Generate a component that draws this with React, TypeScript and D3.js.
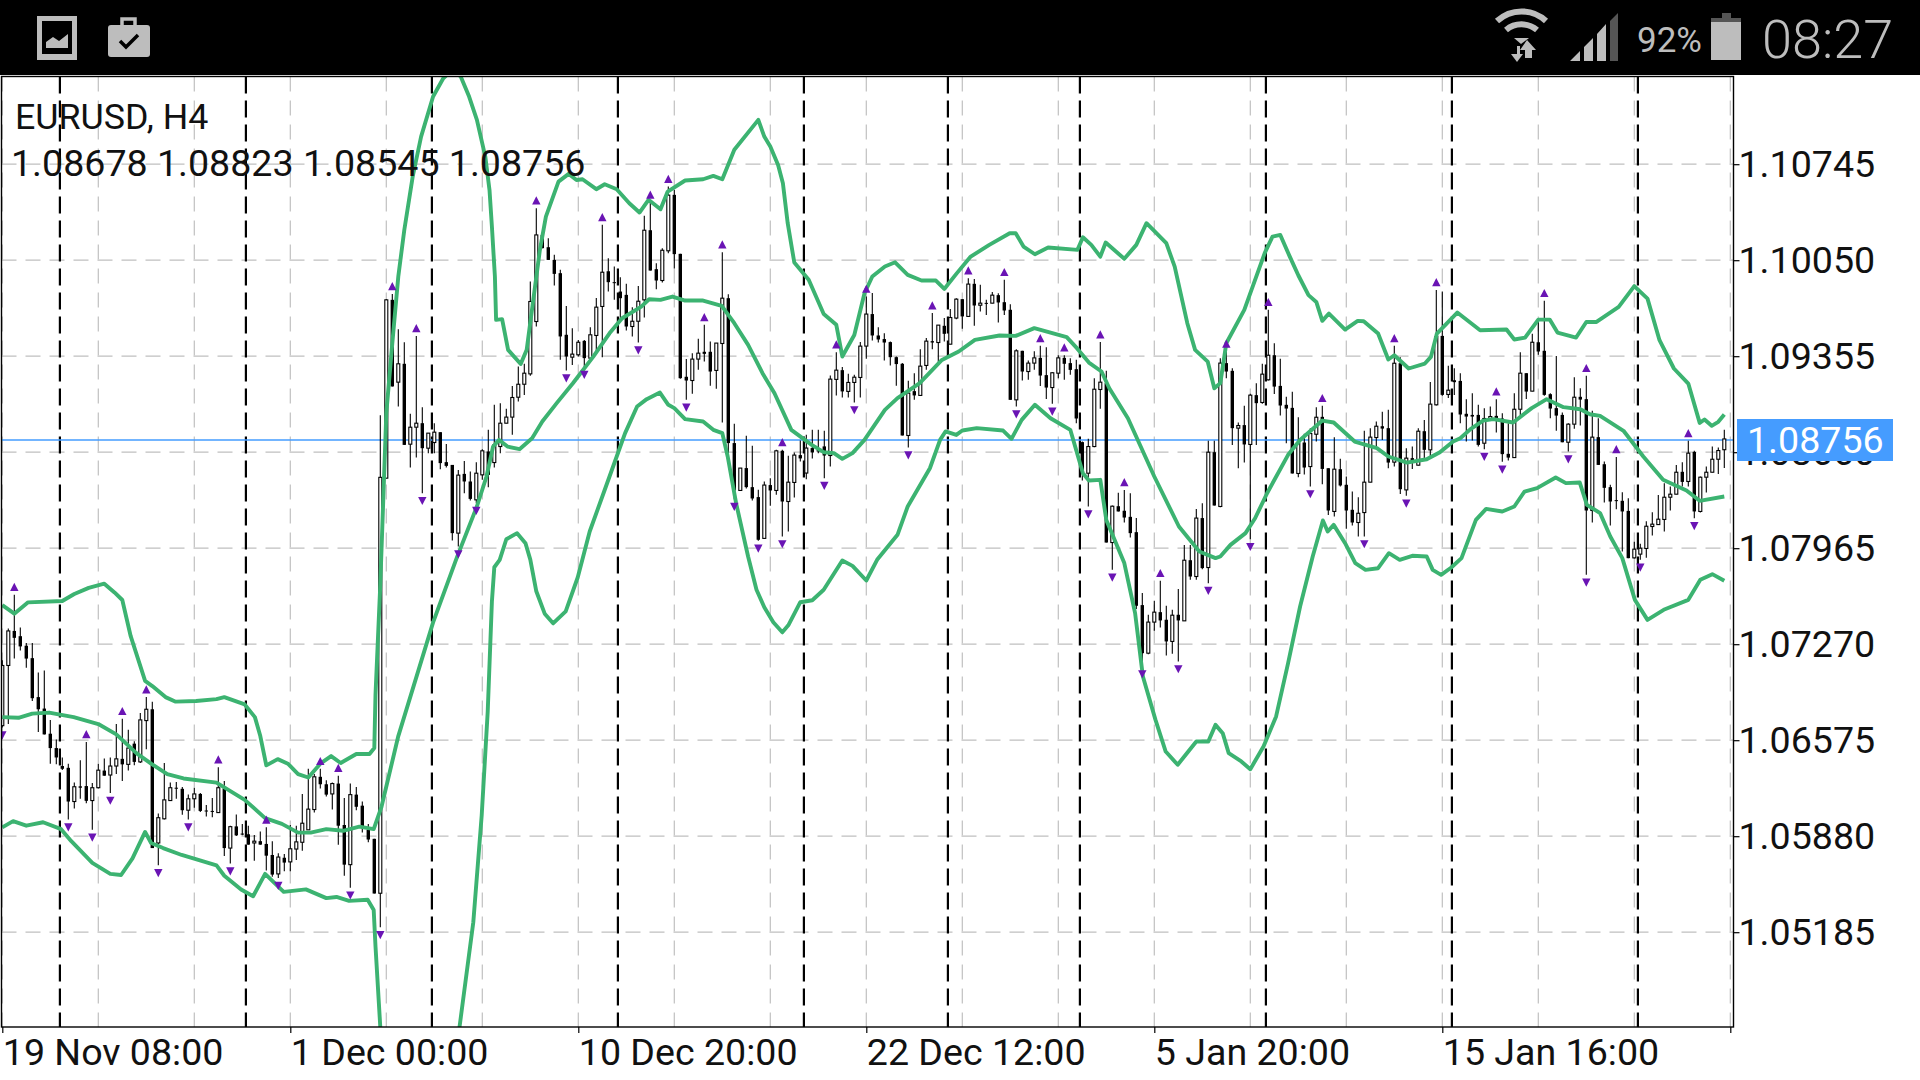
import React, { useRef, useEffect } from 'react';
import * as d3 from 'd3';

const WIDTH = 1920;
const HEIGHT = 1080;

const symbolName = 'EURUSD, H4';
const lastOhlc = '1.08678 1.08823 1.08545 1.08756';
const lastPrice = 1.08756;

const priceTicks = [1.10745, 1.1005, 1.09355, 1.0866, 1.07965, 1.0727, 1.06575, 1.0588, 1.05185];
const timeTicks = [0, 48, 96, 144, 192, 240, 288];
const timeLabels = ['19 Nov 08:00', '1 Dec 00:00', '10 Dec 20:00', '22 Dec 12:00', '5 Jan 20:00', '15 Jan 16:00', ''];
const gridBars = d3.range(0, 289, 16);
const separatorBars = [9.6, 40.6, 71.6, 102.6, 133.6, 157.6, 179.6, 210.6, 241.6, 272.6];

// bars: open, high, low, close in 1e-5 units
const candles: number[][] = [
  [106680,107154,106667,107116],[107116,107383,106692,107366],[107366,107628,107166,107316],[107328,107391,107224,107254],
  [107259,107279,107099,107166],[107169,107279,106859,106879],[106887,107066,106635,106799],[106804,107079,106617,106617],
  [106622,106722,106405,106518],[106518,106580,106400,106450],[106388,106450,106360,106368],[106375,106405,106001,106131],
  [106131,106268,106081,106238],[106241,106430,106151,106231],[106243,106562,106118,106136],[106138,106266,105926,106231],
  [106231,106405,106226,106358],[106355,106443,106318,106318],[106323,106450,106193,106388],[106388,106692,106330,106440],
  [106440,106730,106280,106400],[106400,106650,106355,106518],[106550,106567,106393,106418],[106418,106772,106410,106722],
  [106717,106887,106510,106799],[106799,106854,105794,105794],[105831,106044,105669,106014],[106006,106410,106001,106143],
  [106138,106268,106138,106231],[106231,106273,106151,106226],[106223,106236,106036,106068],[106068,106181,106001,106151],
  [106151,106231,106086,106186],[106186,106193,106056,106063],[106066,106106,106023,106061],[106063,106156,106018,106056],
  [106051,106380,106051,106231],[106226,106280,105737,105794],[105794,105956,105682,105949],[105951,106038,105881,105886],
  [105899,105969,105886,105892],[105894,105956,105819,105819],[105831,105889,105702,105844],[105844,105914,105819,105819],
  [105824,105944,105632,105739],[105744,105844,105587,105602],[105607,105757,105577,105729],[105724,105752,105627,105689],
  [105694,105961,105627,105789],[105787,105956,105707,105839],[105836,106186,105774,105974],[105926,106368,105926,106076],
  [106073,106330,106051,106310],[106310,106368,106226,106256],[106256,106285,106168,106181],[106186,106268,106073,106261],
  [106261,106318,105819,105956],[105961,106156,105594,105674],[105674,106261,105507,106181],[106181,106236,106068,106093],
  [106101,106131,105906,105951],[105926,105969,105836,105856],[105861,105861,105465,105465],[105467,108927,105221,108478],
  [108472,109770,108472,109763],[109763,109806,109136,109136],[109167,109551,108991,109300],[109300,109456,108713,108713],
  [108718,108938,108549,108841],[108841,109502,108622,108870],[108870,108986,108363,108689],[108689,108798,108653,108798],
  [108730,108870,108653,108805],[108805,108805,108537,108581],[108588,108720,108549,108561],[108568,108568,108021,108074],
  [108074,108532,107977,108494],[108503,108597,108363,108448],[108448,108520,108310,108322],[108315,108588,108291,108508],
  [108496,108682,108460,108670],[108665,108822,108407,108496],[108585,109003,108549,108713],[108701,109015,108653,108870],
  [108870,108974,108870,108914],[108914,109140,108786,109056],[109058,109280,109027,109152],[109152,109300,109075,109232],
  [109227,109896,109213,109751],[109606,110426,109570,110233],[110233,110246,110137,110137],[110144,110209,110052,110052],
  [110052,110089,109867,109951],[109956,109980,109329,109498],[109510,109719,109251,109353],[109348,109558,109292,109370],
  [109365,109473,109353,109456],[109466,109473,109276,109341],[109341,109565,109329,109510],[109505,109777,109389,109710],
  [109715,110306,109348,109963],[109970,110065,109823,109891],[109891,110004,109763,109884],[109823,109927,109606,109775],
  [109799,109879,109541,109570],[109570,109710,109498,109608],[109608,109864,109454,109753],[109763,110371,109635,110267],
  [110267,110468,109975,109975],[109985,110028,109840,109903],[109903,110137,109888,110122],[110118,110583,110101,110521],
  [110523,110560,109990,110094],[110096,110096,109191,109196],[109206,109334,109039,109179],[109179,109377,109083,109334],
  [109334,109481,109257,109377],[109387,109582,109317,109372],[109387,109462,109141,109244],[109252,109450,109119,109450],
  [109447,110108,108875,109775],[109775,109804,108653,108726],[108726,108866,108320,108383],[108383,108545,108383,108545],
  [108545,108779,108397,108407],[108407,108706,108311,108325],[108335,108388,108019,108026],[108036,108448,108036,108422],
  [108422,108472,108272,108383],[108383,108677,108352,108670],[108670,108677,108050,108303],[108303,108634,108086,108443],
  [108441,108658,108332,108639],[108639,108745,108593,108615],[108509,108786,108465,108690],[108690,108822,108615,108658],
  [108675,108822,108653,108665],[108702,108815,108472,108636],[108636,109215,108557,109189],[109187,109384,109071,109254],
  [109254,109276,109056,109100],[109100,109228,109056,109165],[109165,109220,109020,109203],[109201,109457,109056,109428],
  [109428,109787,109336,109660],[109660,109812,109469,109505],[109505,109565,109454,109476],[109479,109522,109324,109454],
  [109457,109462,109288,109348],[109348,109353,109141,109298],[109300,109305,108781,108781],[108781,109177,108694,109088],
  [109102,109232,109039,109071],[109071,109406,109071,109283],[109288,109486,109257,109464],[109464,109667,109406,109454],
  [109454,109580,109314,109580],[109575,109631,109462,109517],[109442,109696,109442,109635],[109631,109775,109623,109768],
  [109768,109768,109553,109643],[109643,109920,109643,109877],[109879,109913,109575,109722],[109724,109872,109679,109739],
  [109741,109763,109654,109737],[109739,109819,109739,109797],[109797,109811,109599,109744],[109746,109908,109654,109686],
  [109691,109732,109039,109039],[109039,109406,108991,109394],[109394,109394,109179,109244],[109244,109324,109184,109305],
  [109305,109391,109256,109343],[109343,109430,109140,109215],[109218,109420,109046,109128],[109128,109239,109010,109235],
  [109232,109362,109196,109343],[109343,109362,109184,109300],[109305,109341,109220,109256],[109261,109329,108870,108904],
  [108733,108738,108455,108513],[108508,108757,108267,108701],[108701,109196,108696,109116],[109114,109457,108974,109167],
  [109160,109249,108006,108006],[108006,108274,107809,108269],[108269,108366,108231,108231],[108236,108387,108151,108187],
  [108192,108363,108042,108074],[108081,108183,107524,107548],[107553,107640,107109,107205],[107205,107483,107198,107430],
  [107430,107584,107367,107502],[107502,107729,107391,107442],[107447,107548,107188,107290],[107290,107519,107200,107480],
  [107483,107669,107145,107442],[107439,107989,107439,107878],[107878,107989,107736,107760],[107760,108248,107736,108183],
  [108183,108291,107813,107821],[107825,108742,107712,108660],[108660,108742,108274,108274],[108267,109341,108262,109305],
  [109305,109389,109196,109244],[109249,109268,108713,108834],[108834,108875,108544,108853],[108856,108996,108586,108716],
  [108716,109083,108030,109073],[109073,109160,108713,109015],[109020,109300,109010,109225],[109184,109691,109179,109362],
  [109362,109449,109082,109135],[109140,109336,108925,108998],[109003,109061,108725,108976],[108981,109097,108506,108506],
  [108506,108913,108479,108725],[108730,108793,108498,108549],[108556,108834,108412,108795],[108790,108986,108737,108913],
  [108916,108996,108428,108539],[108544,108544,108206,108238],[108231,108769,108194,108537],[108537,108612,108412,108419],
  [108424,108484,108105,108238],[108243,108375,108129,108151],[108151,108334,108050,108218],[108223,108815,108050,108443],
  [108443,108834,108443,108769],[108766,108882,108701,108848],[108848,108952,108749,108831],[108834,108967,108544,108585],
  [108588,109430,108556,109304],[109304,109348,108358,108392],[108387,108689,108344,108617],[108617,108701,108539,108593],
  [108566,108834,108564,108812],[108812,108894,108609,108677],[108677,109169,108624,109008],[109003,109835,108998,109497],
  [109502,109823,109068,109075],[109078,109285,109053,109109],[109181,109268,109075,109167],[109176,109232,108870,108933],
  [108938,109044,108737,108918],[108930,109087,108745,108918],[108930,109003,108701,108713],[108725,108979,108682,108904],
  [108901,108991,108894,108918],[108923,109044,108802,108901],[108904,108942,108590,108646],[108648,108870,108600,108621],
  [108621,109087,108621,108971],[108971,109384,108930,109232],[109232,109232,109046,109099],[109102,109517,109102,109456],
  [109456,109618,109365,109389],[109394,109756,109068,109075],[109080,109087,108906,108976],[108979,109357,108815,108925],
  [108930,108947,108732,108732],[108732,108870,108665,108863],[108863,109203,108829,109058],[109061,109123,108853,109041],
  [109044,109213,107772,108238],[108238,108960,108151,108769],[108769,108906,108568,108568],[108573,108592,108296,108402],
  [108407,108424,108129,108303],[108313,108626,108247,108308],[108308,108370,107941,108231],[108235,108327,107893,107893],
  [107895,108011,107890,107958],[107922,107997,107881,107965],[107963,108161,107895,108124],[108122,108226,108057,108139],
  [108136,108351,108136,108175],[108173,108436,108086,108334],[108334,108412,108238,108356],[108356,108568,108356,108515],
  [108518,108588,108412,108445],[108448,108742,108412,108653],[108662,108670,108182,108231],[108231,108484,108223,108479],
  [108479,108556,108368,108515],[108515,108701,108515,108609],[108609,108694,108503,108672],[108678,108823,108545,108756],
];

// fractal marks, by bar number
const fractalUp = [2,14,20,24,36,44,53,56,65,69,89,100,108,111,117,120,130,139,144,155,161,167,173,177,183,187,193,204,211,220,232,239,249,257,264,269,281];
const fractalDown = [0,11,15,18,26,31,38,46,58,63,70,76,79,94,97,106,114,122,126,130,137,142,151,169,175,181,185,190,196,201,208,218,227,234,247,250,261,264,273,282];

// Bollinger bands: [bar, price in 1e-5 units]
const upperBand: number[][] = [
  [0,107553],[2,107491],[4.3,107573],[10,107583],[12,107633],[14.4,107678],[17,107708],[18.7,107645],[20,107590],[21.4,107328],[23.8,107004],[25,106967],[27.2,106887],[28.9,106854],[32.3,106859],[35.7,106872],[37,106887],[40.4,106834],[42.1,106742],[43,106605],[44,106393],[45.9,106438],[47.6,106405],[49.3,106330],[51,106305],[53,106405],[54.8,106460],[56.4,106410],[59,106475],[61.2,106475],[62,106518],[62.2,106904],[63,107703],
  [64,108942],[65,109449],[66,109932],[67,110269],[68.4,110655],[69.8,110945],[71.8,111235],[73.5,111367],[75,111428],[76.4,111380],[77.8,111235],[79.1,111066],[80.5,110800],[81.2,110559],[81.6,110294],[82.1,109932],[82.3,109618],[83.3,109623],[84.3,109401],[86.4,109299],[87.4,109401],[88.5,109763],[89.6,110125],[90.6,110366],[92.7,110619],[94.4,110675],[95.7,110631],[96.7,110636],[99,110564],[100.4,110600],[102.4,110564],[104.5,110462],[106.2,110395],
  [107.7,110487],[109.7,110419],[110.9,110547],[113.8,110627],[116.8,110636],[118.5,110660],[120,110636],[122,110849],[126,111066],[127,110945],[128,110873],[129.3,110740],[130.1,110607],[130.9,110318],[132,110033],[134.4,109908],[136.9,109661],[139,109582],[140,109353],[142,109509],[143.7,109811],[145,109932],[147.1,110004],[148.8,110035],[150.9,109944],[153.2,109903],[155.6,109903],[157,109842],[159,109951],[161.4,110076],[164.5,110161],[167.9,110245],[168.9,110245],[170.2,110149],[172.1,110093],[174.3,110142],[179.2,110125],[180.1,110216],[181.5,110161],[183,110076],[183.9,110178],[187,110060],[189,110161],[190.7,110318],[194,110173],[195.4,110004],[197.5,109594],[198.8,109401],[200.9,109316],[202,109123],[203,109160],[204,109449],[207,109690],[210.4,110101],[211.7,110221],[213,110233],
  [214.6,110074],[216,109941],[217.7,109797],[219,109748],[220,109611],[221.1,109664],[223.8,109548],[225.9,109611],[226.9,109608],[229.3,109519],[231,109331],[232,109362],[234.4,109266],[237.1,109302],[238.1,109350],[239.1,109519],[242.5,109671],[246.3,109543],[250.7,109548],[252,109476],[253.8,109490],[256,109620],[257.9,109620],[259.2,109526],[262.3,109490],[264,109603],[265.7,109603],[269.4,109712],[272,109862],[274.2,109772],[276.2,109471],[278.6,109266],[281,109157],[282.9,108872],[283.7,108897],[284.9,108851],[286,108880],[287,108933],
];
const middleBand: number[][] = [
  [0,106742],[2.7,106737],[5,106767],[7.8,106775],[11.9,106742],[16,106692],[19,106617],[22.4,106480],[24.8,106405],[27.5,106330],[30.2,106298],[35.7,106268],[40.4,106143],[43.8,106011],[46.6,105969],[49.3,105906],[51.4,105906],[54,105931],[56.8,105919],[59.5,105949],[61.9,105931],[63.2,106093],[66,106605],[71.8,107428],[75.8,107902],
  [79.1,108267],[80.7,108484],[81.8,108701],[82.8,108749],[84.2,108701],[86.2,108682],[88.3,108761],[90,108882],[92.4,109015],[95.1,109159],[98.5,109352],[101.2,109521],[103.3,109630],[106.5,109714],
  [107.8,109767],[109.7,109763],[111.7,109787],[113.8,109758],[116.8,109758],[119.9,109719],[122,109594],[124.3,109437],[126.7,109232],[128.7,109087],[131.5,108822],[134.9,108713],[136.9,108660],[138.6,108653],[140,108612],[141.7,108653],[143.7,108749],[147.1,108966],[149.2,109051],[152.9,109160],[156.6,109328],[159.4,109389],[162.1,109473],[166.2,109505],[168.9,109502],[172,109558],[177.4,109493],[179.1,109413],[181.1,109309],[183.2,109244],[184.5,109123],[187.6,108906],[192,108484],[196.1,108122],[199.5,107941],[202.2,107893],
  [203,107905],[204.7,107989],[207.2,108074],[208.8,108182],[210.8,108363],[214.3,108641],[216.3,108749],[220,108889],[221.9,108875],[225.4,108737],[229.1,108689],[231,108629],[234.1,108585],[237.4,108609],[239.6,108660],[241.8,108737],[243,108761],[244.7,108827],
  [246.8,108889],[248.5,108899],[251.8,108875],[254.9,108979],[257.4,109044],[260.2,108986],[263,108971],[264.6,108935],[266.3,108923],[270.2,108815],[273.5,108629],[276.8,108460],[280.7,108383],[282.9,108308],[287,108339],
];
const lowerBand: number[][] = [
  [0,105944],[1.8,105989],[4,105956],[6.8,105981],[9.8,105931],[11.5,105844],[15,105687],[18,105607],[19.8,105599],[21.7,105719],[23.8,105911],[24.8,105831],[26.8,105794],[29.9,105744],[35.7,105669],[37,105594],[39.8,105494],[41.8,105445],[43.8,105607],[46.9,105477],[50.6,105495],[54,105432],[55.7,105440],[57.8,105412],[60.9,105420],[61.9,105345],[62.2,105083],[63,104497],[64,103606],[75,103606],[76.2,104497],[78.5,105257],[79.9,106031],[80.9,106780],[81.6,107578],[82,107827],[82.9,107881],[84,108030],[85.8,108074],[87.2,108001],[88,107882],[89,107653],[90.4,107491],[91.8,107421],[93.9,107508],[95.9,107753],[97.9,108086],[100.2,108363],[102.4,108629],[103.8,108798],[105.8,108991],[107.4,109044],[109.6,109092],[111,109003],
  [112,108979],[113.8,108899],[116.8,108882],[118.5,108822],[120,108798],[120.9,108629],[122.3,108291],[124.3,107905],[125.7,107664],[127,107537],[128.5,107429],[130,107356],[131,107407],[133,107574],[135,107588],[136.9,107664],[140,107876],[141.7,107837],[144,107731],[145.8,107881],[149.2,108062],[150.9,108267],[154.6,108544],[156.3,108749],[157.2,108810],[159,108785],[160,108817],[162.4,108834],[166.8,108817],[168.2,108757],[169.9,108894],[172.1,109003],[174.7,108906],[178,108822],[180.1,108508],[181.1,108455],[183,108460],[184,108170],[187,107857],[188.8,107495],
  [190.1,107036],[192.2,106722],[193.9,106493],[195.9,106397],[199,106566],[201,106566],[202.2,106686],[203.4,106626],[204.4,106481],[206.5,106421],[208,106365],[210.2,106529],[212.3,106747],[214.3,107133],[216.3,107543],[218.4,107905],[220.1,108166],[220.9,108086],[221.9,108134],[223.8,108001],[225.5,107857],[227.2,107808],[229.3,107820],[231.1,107929],[232.9,107881],[235,107910],[237.4,107905],[238.4,107808],[239.8,107772],[241.5,107825],[243.2,107893],[245.6,108170],[247.3,108250],[250,108231],[252,108267],[253.7,108375],[255.8,108400],[258.9,108477],[260.6,108436],[262.9,108441],[264.1,108279],[266.3,108219],[268,108050],[270,107893],[272.1,107591],[274.2,107446],[276.9,107519],[281,107591],[283,107736],[285,107777],[287,107729],
];

const BAND = '#3cb371';
const FRACTAL = '#6a14b4';
const PRICE_BLUE = '#459cff';
const GRID = '#c0c0c0';
const STATUS = '#bdbdbd';
const FONT = 'Roboto, sans-serif';
const LABEL_SIZE = 37.6;

export default function App() {
  const svgRef = useRef<SVGSVGElement>(null);

  useEffect(() => {
    if (!svgRef.current) return;
    const svg = d3.select(svgRef.current);
    svg.selectAll('*').remove();

    const plot = { left: 1.5, right: 1733.5, top: 76.5, bottom: 1027 };
    const x = d3.scaleLinear().domain([0, 288]).range([2.3, 1730.3]);
    const y = d3.scaleLinear().domain([1.05185, 1.10745]).range([932.2, 164.2]);
    const py = (pts: number) => y(pts / 100000);

    svg.append('defs').append('clipPath').attr('id', 'plot-clip').append('rect')
      .attr('x', plot.left).attr('y', plot.top)
      .attr('width', plot.right - plot.left).attr('height', plot.bottom - plot.top);

    svg.append('rect').attr('width', WIDTH).attr('height', HEIGHT).attr('fill', '#fff');

    const chart = svg.append('g').attr('clip-path', 'url(#plot-clip)');

    // grid
    chart.selectAll('.grid-h').data(priceTicks).enter().append('line')
      .attr('x1', plot.left).attr('x2', plot.right)
      .attr('y1', d => y(d)).attr('y2', d => y(d))
      .attr('stroke', GRID).attr('stroke-width', 1.2).attr('stroke-dasharray', '15 9');
    chart.selectAll('.grid-v').data(gridBars).enter().append('line')
      .attr('x1', d => x(d)).attr('x2', d => x(d))
      .attr('y1', plot.top).attr('y2', plot.bottom)
      .attr('stroke', GRID).attr('stroke-width', 1.2).attr('stroke-dasharray', '15 9');

    // period separators
    chart.selectAll('.sep').data(separatorBars).enter().append('line')
      .attr('x1', d => x(d)).attr('x2', d => x(d))
      .attr('y1', plot.top).attr('y2', plot.bottom)
      .attr('stroke', '#000').attr('stroke-width', 2.2).attr('stroke-dasharray', '17 7');

    // current price line
    chart.append('line')
      .attr('x1', plot.left).attr('x2', plot.right)
      .attr('y1', y(lastPrice) + 1).attr('y2', y(lastPrice) + 1)
      .attr('stroke', PRICE_BLUE).attr('stroke-width', 1.4);

    // candles
    const bars = chart.selectAll('.bar').data(candles).enter().append('g');
    bars.append('line')
      .attr('x1', (_, i) => x(i)).attr('x2', (_, i) => x(i))
      .attr('y1', d => py(d[1])).attr('y2', d => py(d[2]))
      .attr('stroke', '#000').attr('stroke-width', 1.1);
    bars.append('rect')
      .attr('x', (d, i) => x(i) - (d[3] >= d[0] ? 1.5 : 1.7))
      .attr('width', d => d[3] >= d[0] ? 3 : 3.4)
      .attr('y', d => py(Math.max(d[0], d[3])))
      .attr('height', d => Math.max(py(Math.min(d[0], d[3])) - py(Math.max(d[0], d[3])), 1))
      .attr('fill', d => d[3] >= d[0] ? '#fff' : '#000')
      .attr('stroke', d => d[3] >= d[0] ? '#000' : 'none')
      .attr('stroke-width', 1.1);

    // bands
    const bandLine = d3.line<number[]>().x(d => x(d[0])).y(d => py(d[1]));
    [upperBand, middleBand, lowerBand].forEach(band => {
      chart.append('path').attr('d', bandLine(band))
        .attr('fill', 'none').attr('stroke', BAND).attr('stroke-width', 3.9)
        .attr('stroke-linejoin', 'round');
    });

    // fractals
    const tri = d3.line<number[]>();
    chart.selectAll('.fr-up').data(fractalUp).enter().append('path')
      .attr('d', i => {
        const cx = x(i), cy = py(candles[i][1]) - 7.7;
        return tri([[cx - 4.2, cy + 4], [cx + 4.2, cy + 4], [cx, cy - 4.2]]) + 'Z';
      })
      .attr('fill', FRACTAL);
    chart.selectAll('.fr-down').data(fractalDown).enter().append('path')
      .attr('d', i => {
        const cx = x(i), cy = py(candles[i][2]) + 7.7;
        return tri([[cx - 4.2, cy - 4], [cx + 4.2, cy - 4], [cx, cy + 4.2]]) + 'Z';
      })
      .attr('fill', FRACTAL);

    // frame
    svg.append('rect')
      .attr('x', plot.left).attr('y', plot.top)
      .attr('width', plot.right - plot.left).attr('height', plot.bottom - plot.top)
      .attr('fill', 'none').attr('stroke', '#000').attr('stroke-width', 1.4);

    // price axis
    const yAxis = d3.axisRight(y).tickValues(priceTicks).tickSize(6).tickPadding(1)
      .tickFormat(d => (+d).toFixed(5));
    const yG = svg.append('g').attr('transform', `translate(${plot.right}, 0)`).call(yAxis);
    yG.select('.domain').remove();
    yG.selectAll('line').attr('stroke', '#000').attr('stroke-width', 1.2);
    yG.selectAll('text')
      .attr('font-family', FONT).attr('font-size', LABEL_SIZE).attr('fill', '#111')
      .attr('dy', 12.5).attr('x', 5);

    // time axis
    const xAxis = d3.axisBottom(x).tickValues(timeTicks).tickSize(6).tickPadding(0)
      .tickFormat((_, i) => timeLabels[i]);
    const xG = svg.append('g').attr('transform', `translate(0, ${plot.bottom})`).call(xAxis);
    xG.select('.domain').remove();
    xG.selectAll('line').attr('stroke', '#000').attr('stroke-width', 1.2);
    xG.selectAll('text')
      .attr('font-family', FONT).attr('font-size', LABEL_SIZE).attr('fill', '#111')
      .attr('text-anchor', 'start').attr('x', 0).attr('y', 37.5).attr('dy', 0);

    // price tag
    svg.append('rect').attr('x', 1737).attr('y', 419).attr('width', 156).attr('height', 42).attr('fill', PRICE_BLUE);
    svg.append('text').attr('x', 1747).attr('y', 453)
      .attr('font-family', FONT).attr('font-size', LABEL_SIZE).attr('fill', '#fff').text(lastPrice.toFixed(5));

    // chart title
    svg.append('text').attr('x', 15).attr('y', 129)
      .attr('font-family', FONT).attr('font-size', 35.8).attr('fill', '#111').text(symbolName);
    svg.append('text').attr('x', 11).attr('y', 176)
      .attr('font-family', FONT).attr('font-size', LABEL_SIZE).attr('fill', '#111').text(lastOhlc);

    // status bar
    const bar = svg.append('g');
    bar.append('rect').attr('width', WIDTH).attr('height', 75).attr('fill', '#000');
    bar.append('rect').attr('x', 37).attr('y', 16).attr('width', 40).attr('height', 44).attr('fill', STATUS);
    bar.append('rect').attr('x', 42).attr('y', 21).attr('width', 30).attr('height', 33).attr('fill', '#000');
    bar.append('path').attr('d', 'M46 48 V42 L53 37 L59 41 L68 34 V48 Z').attr('fill', STATUS);
    bar.append('rect').attr('x', 108).attr('y', 25).attr('width', 42).attr('height', 32).attr('rx', 3).attr('fill', STATUS);
    bar.append('path').attr('d', 'M122 25 V19 H135 V25').attr('fill', 'none').attr('stroke', STATUS).attr('stroke-width', 3.5);
    bar.append('path').attr('d', 'M120 41 L126 47 L138 35').attr('fill', 'none').attr('stroke', '#000').attr('stroke-width', 3.5);
    bar.append('path').attr('d', 'M1497 21 A36 36 0 0 1 1546 21 M1506 30 A24 24 0 0 1 1537 30')
      .attr('fill', 'none').attr('stroke', STATUS).attr('stroke-width', 6);
    bar.append('path').attr('d', 'M1514 38 L1529 38 L1521 44 Z').attr('fill', STATUS);
    bar.append('path').attr('d', 'M1517 46 V54 H1511 L1517 62 L1523 54 H1520 V46 Z M1527 40 L1536 50 H1532 V58 H1525 V50 H1520 Z').attr('fill', STATUS);
    bar.append('path').attr('d', 'M1570 61 L1580 51 V61 Z M1584 61 V47 L1593 38 V61 Z M1597 61 V34 L1606 24 V61 Z').attr('fill', STATUS);
    bar.append('path').attr('d', 'M1610 61 V21 L1618 13 V61 Z').attr('fill', '#555');
    bar.append('text').attr('x', 1637).attr('y', 52)
      .attr('font-family', FONT).attr('font-size', 35).attr('fill', STATUS).text('92%');
    bar.append('rect').attr('x', 1722).attr('y', 13).attr('width', 9).attr('height', 6).attr('fill', '#555');
    bar.append('rect').attr('x', 1711).attr('y', 18).attr('width', 30).attr('height', 4).attr('fill', '#555');
    bar.append('rect').attr('x', 1711).attr('y', 22).attr('width', 30).attr('height', 38).attr('fill', STATUS);
    bar.append('text').attr('x', 1762).attr('y', 58)
      .attr('font-family', FONT).attr('font-size', 54).attr('font-weight', 300).attr('fill', STATUS).text('08:27');
  }, []);

  return (
    <svg
      ref={svgRef}
      width={WIDTH}
      height={HEIGHT}
      style={{ position: 'absolute', left: 0, top: 0, display: 'block' }}
    />
  );
}
